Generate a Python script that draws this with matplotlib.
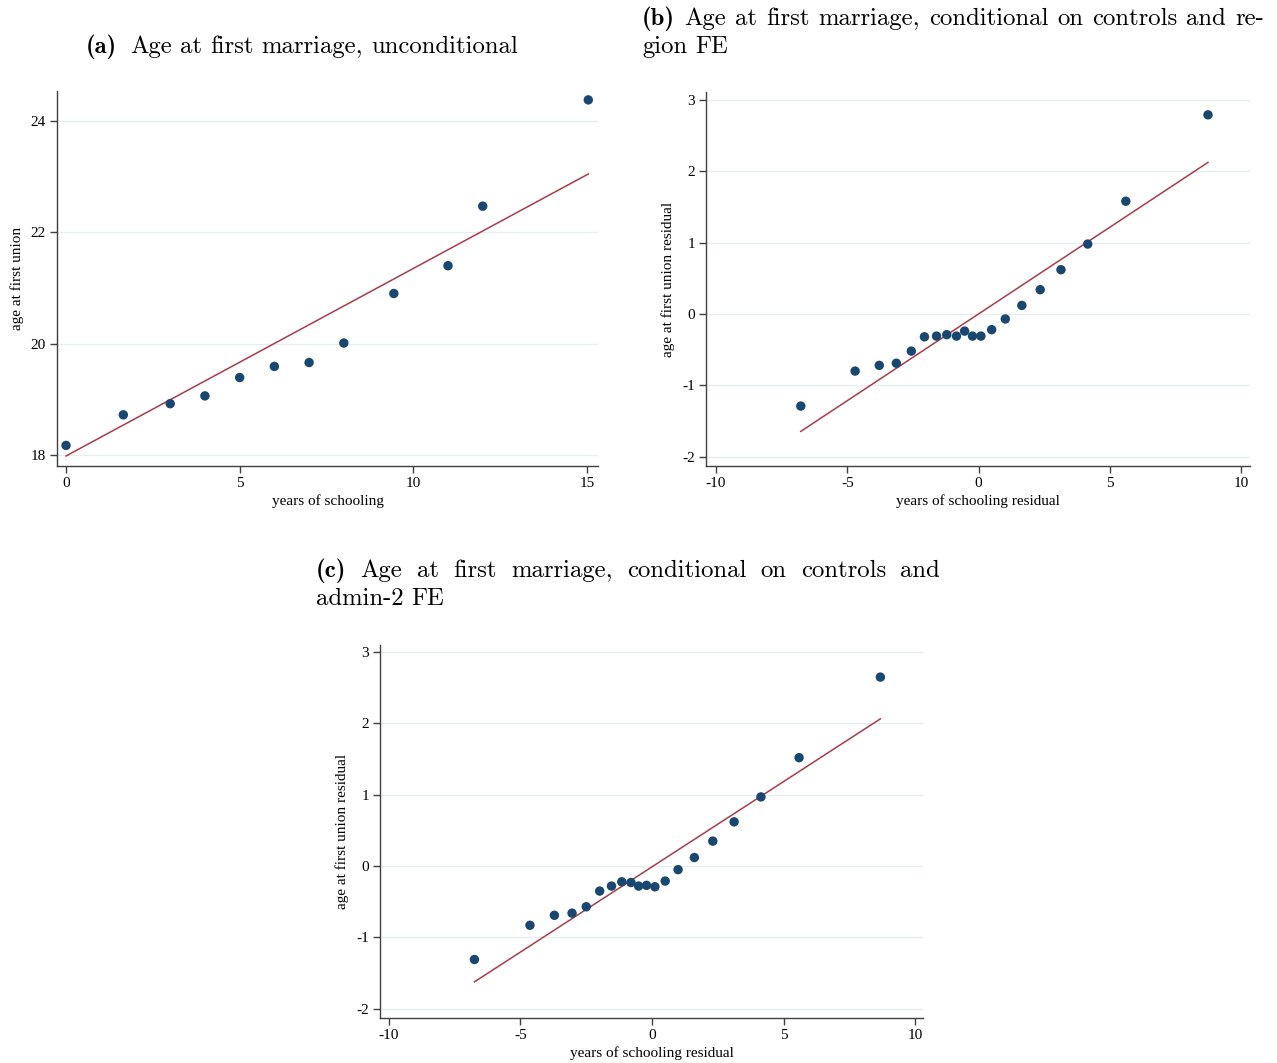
import numpy as np
import matplotlib.pyplot as plt

plt.rcParams['mathtext.fontset'] = 'cm'
plt.rcParams['axes.unicode_minus'] = False

# binned scatter: years of schooling vs age at first union
a_x = [0, 1.65, 3.0, 4.0, 5.0, 6.0, 7.0, 8.0, 9.44, 11.0, 12.0, 15.04]
a_y = [18.17, 18.72, 18.92, 19.06, 19.39, 19.59, 19.66, 20.01, 20.90, 21.40, 22.47, 24.38]
a_fit = (17.98, 0.337)   # intercept, slope

# residualised on controls + region FE
b_x = [-6.77, -4.70, -3.78, -3.13, -2.56, -2.06, -1.60, -1.21, -0.84, -0.53,
       -0.23, 0.09, 0.50, 1.02, 1.65, 2.35, 3.14, 4.16, 5.61, 8.74]
b_y = [-1.29, -0.80, -0.72, -0.69, -0.52, -0.32, -0.31, -0.29, -0.31, -0.24,
       -0.31, -0.31, -0.22, -0.07, 0.12, 0.34, 0.62, 0.98, 1.58, 2.79]
b_fit = (0.0, 0.243)

# residualised on controls + admin-2 FE
c_x = [-6.75, -4.64, -3.71, -3.04, -2.50, -1.99, -1.54, -1.15, -0.80, -0.51,
       -0.21, 0.11, 0.50, 0.99, 1.61, 2.31, 3.12, 4.14, 5.59, 8.68]
c_y = [-1.31, -0.83, -0.69, -0.66, -0.57, -0.35, -0.28, -0.22, -0.23, -0.28,
       -0.27, -0.29, -0.21, -0.05, 0.12, 0.35, 0.62, 0.97, 1.52, 2.65]
c_fit = (-0.01, 0.239)

NAVY = '#1a476f'
MAROON = '#a83c47'
GRID = '#e6eef0'

W, H = 1277, 1063
fig = plt.figure(figsize=(W / 100, H / 100), dpi=100)


def px_axes(l, t, r, b):
    return fig.add_axes([l / W, 1 - b / H, (r - l) / W, (b - t) / H])


def binscatter(ax, x, y, fit, xlim, ylim, xticks, yticks, xlabel, ylabel):
    x = np.array(x)
    xs = np.array([x.min(), x.max()])
    ax.plot(xs, fit[0] + fit[1] * xs, color=MAROON, lw=1.1, zorder=2)
    ax.scatter(x, y, s=46, color=NAVY, edgecolors='none', zorder=3)
    ax.set_xlim(*xlim)
    ax.set_ylim(*ylim)
    ax.set_xticks(xticks)
    ax.set_yticks(yticks)
    ax.grid(axis='y', color=GRID, lw=1.0)
    ax.set_axisbelow(True)
    for s in ['top', 'right']:
        ax.spines[s].set_visible(False)
    for s in ['left', 'bottom']:
        ax.spines[s].set_color('#404040')
        ax.spines[s].set_linewidth(1.0)
    ax.tick_params(direction='out', length=5, width=1, color='#404040',
                   labelsize=11, pad=3)
    for lab in ax.get_xticklabels() + ax.get_yticklabels():
        lab.set_fontfamily('Liberation Serif')
    ax.set_xlabel(xlabel, family='Liberation Serif', fontsize=11, labelpad=3)
    ax.set_ylabel(ylabel, family='Liberation Serif', fontsize=11, labelpad=5)


ax_a = px_axes(57, 91, 598, 466)
binscatter(ax_a, a_x, a_y, a_fit, (-0.26, 15.32), (17.80, 24.54),
           [0, 5, 10, 15], [18, 20, 22, 24],
           'years of schooling', 'age at first union')

ax_b = px_axes(706, 92, 1250, 466)
binscatter(ax_b, b_x, b_y, b_fit, (-10.38, 10.34), (-2.13, 3.11),
           [-10, -5, 0, 5, 10], [-2, -1, 0, 1, 2, 3],
           'years of schooling residual', 'age at first union residual')

ax_c = px_axes(380, 645, 923, 1018)
binscatter(ax_c, c_x, c_y, c_fit, (-10.34, 10.30), (-2.13, 3.10),
           [-10, -5, 0, 5, 10], [-2, -1, 0, 1, 2, 3],
           'years of schooling residual', 'age at first union residual')

# subfigure captions (LaTeX-style, justified first lines)
TFS = 17.8
SPACE = TFS * 100 / 72 * 0.33
renderer = fig.canvas.get_renderer()


def make_words(words, y):
    texts = []
    for i, w in enumerate(words):
        bold = w.startswith('(') and w.endswith(')')
        t = fig.text(0, 1 - y / H, w, fontsize=TFS, va='center',
                     family='cmb10' if bold else 'cmr10')
        texts.append(t)
    widths = [t.get_window_extent(renderer).width for t in texts]
    return texts, widths


def place(texts, widths, left, gaps):
    x = left
    for i, (t, w) in enumerate(zip(texts, widths)):
        t.set_x(x / W)
        if i < len(gaps):
            x += w + gaps[i]


def caption_line(words, left, right, y, justify=True):
    texts, widths = make_words(words, y)
    n = len(words) - 1
    if justify and n > 0:
        g = (right - left - sum(widths)) / n
        gaps = [g] * n
    else:
        gaps = [SPACE] * n
    place(texts, widths, left, gaps)


def caption_center(words, cx, y):
    texts, widths = make_words(words, y)
    gaps = [SPACE * 1.6] + [SPACE] * (len(words) - 2)
    total = sum(widths) + sum(gaps)
    place(texts, widths, cx - total / 2, gaps)


caption_center(['(a)', 'Age', 'at', 'first', 'marriage,', 'unconditional'],
               302, 47)
caption_line(['(b)', 'Age', 'at', 'first', 'marriage,', 'conditional',
              'on', 'controls', 'and', 're-'], 642, 1264, 19)
caption_line(['gion', 'FE'], 642, 1264, 47, justify=False)
caption_line(['(c)', 'Age', 'at', 'first', 'marriage,', 'conditional',
              'on', 'controls', 'and'], 316, 940, 571)
caption_line(['admin-2', 'FE'], 316, 940, 599, justify=False)

fig.savefig('out.png', dpi=100)
